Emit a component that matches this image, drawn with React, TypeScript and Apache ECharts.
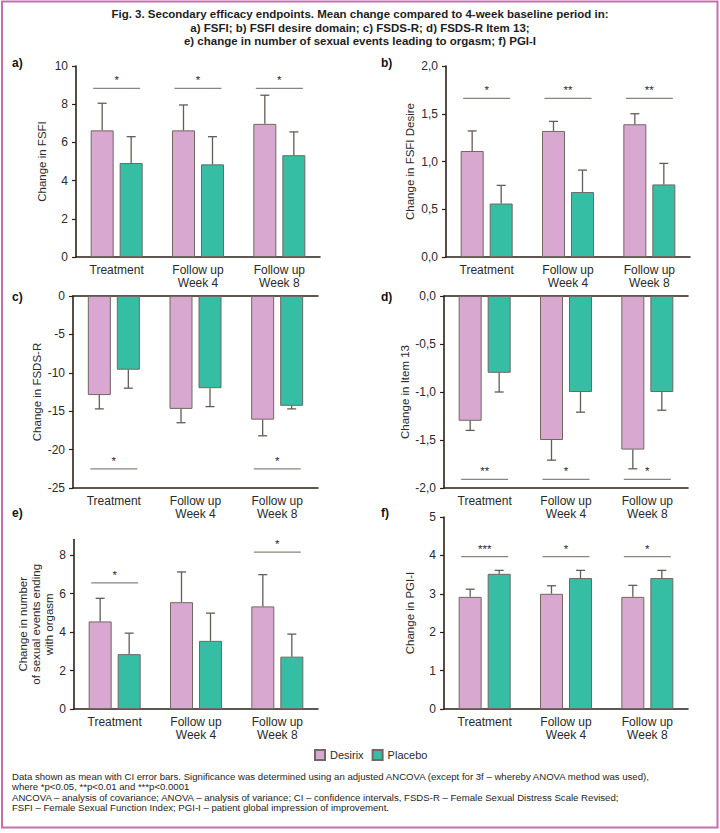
import React, { useEffect, useRef } from "react";
import * as echarts from "echarts";

// ---------- data ----------
const categories = ["Treatment", "Follow up\nWeek 4", "Follow up\nWeek 8"];
const seriesNames = ["Desirix", "Placebo"];

// a) FSFI
const fsfiDesirix = [6.63, 6.63, 6.97];
const fsfiDesirixCI = [8.05, 7.96, 8.47];
const fsfiPlacebo = [4.92, 4.85, 5.33];
const fsfiPlaceboCI = [6.3, 6.3, 6.55];
const fsfiSigCats = [0, 1, 2];
const fsfiSigLevels = [8.83, 8.83, 8.83];
const fsfiSigStars = ["*", "*", "*"];

// b) FSFI desire
const desireDesirix = [1.11, 1.32, 1.39];
const desireDesirixCI = [1.32, 1.42, 1.5];
const desirePlacebo = [0.56, 0.68, 0.76];
const desirePlaceboCI = [0.75, 0.91, 0.98];
const desireSigCats = [0, 1, 2];
const desireSigLevels = [1.66, 1.66, 1.66];
const desireSigStars = ["*", "**", "**"];

// c) FSDS-R
const fsdsDesirix = [-12.9, -14.7, -16.1];
const fsdsDesirixCI = [-14.7, -16.5, -18.2];
const fsdsPlacebo = [-9.6, -12.0, -14.3];
const fsdsPlaceboCI = [-12.0, -14.4, -14.7];
const fsdsSigCats = [0, 2];
const fsdsSigLevels = [-22.5, -22.5];
const fsdsSigStars = ["*", "*"];

// d) FSDS-R Item 13
const item13Desirix = [-1.3, -1.5, -1.6];
const item13DesirixCI = [-1.4, -1.71, -1.8];
const item13Placebo = [-0.8, -1.0, -1.0];
const item13PlaceboCI = [-1.0, -1.21, -1.19];
const item13SigCats = [0, 1, 2];
const item13SigLevels = [-1.91, -1.91, -1.91];
const item13SigStars = ["**", "*", "*"];

// e) sexual events ending with orgasm
const eventsDesirix = [4.55, 5.55, 5.33];
const eventsDesirixCI = [5.75, 7.12, 6.98];
const eventsPlacebo = [2.85, 3.54, 2.72];
const eventsPlaceboCI = [3.94, 4.98, 3.89];
const eventsSigCats = [0, 2];
const eventsSigLevels = [6.55, 8.15];
const eventsSigStars = ["*", "*"];

// f) PGI-I
const pgiDesirix = [2.92, 3.0, 2.92];
const pgiDesirixCI = [3.12, 3.21, 3.22];
const pgiPlacebo = [3.52, 3.41, 3.41];
const pgiPlaceboCI = [3.61, 3.61, 3.61];
const pgiSigCats = [0, 1, 2];
const pgiSigLevels = [3.97, 3.97, 3.97];
const pgiSigStars = ["***", "*", "*"];

const titleLines = [
  "Fig. 3. Secondary efficacy endpoints. Mean change compared to 4-week baseline period in:",
  "a) FSFI; b) FSFI desire domain; c) FSDS-R; d) FSDS-R Item 13;",
  "e) change in number of sexual events leading to orgasm; f) PGI-I",
];
const footerLines = [
  "Data shown as mean with CI error bars. Significance was determined using an adjusted ANCOVA (except for 3f – whereby ANOVA method was used),",
  "where *p<0.05, **p<0.01 and ***p<0.0001",
  "ANCOVA – analysis of covariance; ANOVA – analysis of variance; CI – confidence intervals, FSDS-R – Female Sexual Distress Scale Revised;",
  "FSFI – Female Sexual Function Index; PGI-I – patient global impression of improvement.",
];

// ---------- styles ----------
const FONT = "'Liberation Sans', Arial, sans-serif";
const PINK = "#d8a8d0";
const TEAL = "#35bea3";
const BAR_BORDER = "#716862";
const AXIS = "#2b2118";
const TEXT = "#2a2a2a";
const ERR = "#655c55";
const SIG = "#8a837e";
const BAR_W = 23;
const BAR_GAP = 6;
const OFFSET = (BAR_W + BAR_GAP) / 2;

const comma = (v: number) => v.toFixed(1).replace(".", ",");

type Panel = {
  label: string;
  labelPos: [number, number];
  grid: { left: number; top: number; width: number; height: number };
  min: number;
  max: number;
  interval: number;
  custom?: number[];
  fmt?: (v: number) => string;
  name: string;
  nameGap: number;
  topLine?: boolean;
  d: number[];
  dCI: number[];
  p: number[];
  pCI: number[];
  sigCats: number[];
  sigLevels: number[];
  sigStars: string[];
};

const panels: Panel[] = [
  {
    label: "a)", labelPos: [12, 63],
    grid: { left: 76, top: 66, width: 244, height: 191 },
    min: 0, max: 10, interval: 2, name: "Change in FSFI", nameGap: 28,
    d: fsfiDesirix, dCI: fsfiDesirixCI, p: fsfiPlacebo, pCI: fsfiPlaceboCI,
    sigCats: fsfiSigCats, sigLevels: fsfiSigLevels, sigStars: fsfiSigStars,
  },
  {
    label: "b)", labelPos: [381, 63],
    grid: { left: 446, top: 66, width: 244, height: 191 },
    min: 0, max: 2, interval: 0.5, fmt: comma, name: "Change in FSFI Desire", nameGap: 30,
    d: desireDesirix, dCI: desireDesirixCI, p: desirePlacebo, pCI: desirePlaceboCI,
    sigCats: desireSigCats, sigLevels: desireSigLevels, sigStars: desireSigStars,
  },
  {
    label: "c)", labelPos: [12, 297],
    grid: { left: 73, top: 296, width: 245, height: 192 },
    min: -25, max: 0, interval: 5, name: "Change in FSDS-R", nameGap: 26, topLine: true,
    d: fsdsDesirix, dCI: fsdsDesirixCI, p: fsdsPlacebo, pCI: fsdsPlaceboCI,
    sigCats: fsdsSigCats, sigLevels: fsdsSigLevels, sigStars: fsdsSigStars,
  },
  {
    label: "d)", labelPos: [381, 297],
    grid: { left: 444, top: 296, width: 244, height: 192 },
    min: -2, max: 0, interval: 0.5, fmt: comma, name: "Change in Item 13", nameGap: 32, topLine: true,
    d: item13Desirix, dCI: item13DesirixCI, p: item13Placebo, pCI: item13PlaceboCI,
    sigCats: item13SigCats, sigLevels: item13SigLevels, sigStars: item13SigStars,
  },
  {
    label: "e)", labelPos: [12, 513],
    grid: { left: 74, top: 539.6, width: 244, height: 169.4 },
    min: 0, max: 8.8, interval: 2, custom: [0, 2, 4, 6, 8],
    name: "Change in number\nof sexual events ending\nwith orgasm", nameGap: 15,
    d: eventsDesirix, dCI: eventsDesirixCI, p: eventsPlacebo, pCI: eventsPlaceboCI,
    sigCats: eventsSigCats, sigLevels: eventsSigLevels, sigStars: eventsSigStars,
  },
  {
    label: "f)", labelPos: [381, 513],
    grid: { left: 444, top: 517, width: 244, height: 192 },
    min: 0, max: 5, interval: 1, name: "Change in PGI-I", nameGap: 28,
    d: pgiDesirix, dCI: pgiDesirixCI, p: pgiPlacebo, pCI: pgiPlaceboCI,
    sigCats: pgiSigCats, sigLevels: pgiSigLevels, sigStars: pgiSigStars,
  },
];

function errorSeries(gi: number, vals: number[], ci: number[], sign: number) {
  return {
    type: "custom",
    xAxisIndex: gi,
    yAxisIndex: gi,
    silent: true,
    z: 4,
    data: vals.map((v, i) => [i, v, ci[i]]),
    encode: { x: 0, y: [1, 2] },
    renderItem: (params: any, api: any) => {
      const i = params.dataIndex;
      const a = api.coord([i, vals[i]]);
      const b = api.coord([i, ci[i]]);
      const x = a[0] + sign * OFFSET;
      const st = { stroke: ERR, lineWidth: 1.3 };
      return {
        type: "group",
        children: [
          { type: "line", shape: { x1: x, y1: a[1], x2: x, y2: b[1] }, style: st },
          { type: "line", shape: { x1: x - 4.5, y1: b[1], x2: x + 4.5, y2: b[1] }, style: st },
        ],
      };
    },
  };
}

function sigSeries(gi: number, cats: number[], levels: number[], stars: string[]) {
  return {
    type: "custom",
    xAxisIndex: gi,
    yAxisIndex: gi,
    silent: true,
    z: 4,
    data: cats.map((c, i) => [c, levels[i]]),
    encode: { x: 0, y: 1 },
    renderItem: (params: any, api: any) => {
      const i = params.dataIndex;
      const p = api.coord([cats[i], levels[i]]);
      return {
        type: "group",
        children: [
          {
            type: "line",
            shape: { x1: p[0] - 23.5, y1: p[1], x2: p[0] + 23.5, y2: p[1] },
            style: { stroke: SIG, lineWidth: 1.3 },
          },
          {
            type: "text",
            style: {
              x: p[0], y: p[1] - 8, text: stars[i], align: "center", verticalAlign: "middle",
              fontSize: 11.5, fontFamily: FONT, fill: TEXT,
            },
          },
        ],
      };
    },
  };
}

function buildOption() {
  const grids: any[] = [];
  const xAxes: any[] = [];
  const yAxes: any[] = [];
  const series: any[] = [];
  const graphics: any[] = [];

  panels.forEach((pn, gi) => {
    grids.push({ ...pn.grid, containLabel: false });
    xAxes.push({
      type: "category",
      gridIndex: gi,
      data: categories,
      axisLine: { onZero: false, lineStyle: { color: AXIS, width: 1.6 } },
      axisTick: { show: false },
      axisLabel: { color: TEXT, fontSize: 12, fontFamily: FONT, lineHeight: 13, margin: 6, interval: 0 },
    });
    yAxes.push({
      type: "value",
      gridIndex: gi,
      min: pn.min,
      max: pn.max,
      interval: pn.interval,
      name: pn.name,
      nameLocation: "middle",
      nameGap: pn.nameGap,
      nameTextStyle: { color: TEXT, fontSize: 11.5, fontFamily: FONT, lineHeight: 13 },
      axisLine: { show: true, onZero: false, lineStyle: { color: AXIS, width: 1.6 } },
      axisTick: { show: true, length: 4, lineStyle: { color: AXIS, width: 1.2 }, ...(pn.custom ? { customValues: pn.custom } : {}) },
      axisLabel: {
        color: TEXT, fontSize: 12, fontFamily: FONT, margin: 8,
        ...(pn.fmt ? { formatter: pn.fmt } : {}),
        ...(pn.custom ? { customValues: pn.custom } : {}),
      },
      splitLine: { show: false },
    });
    series.push({
      name: seriesNames[0], type: "bar", xAxisIndex: gi, yAxisIndex: gi,
      barWidth: BAR_W, barGap: (BAR_GAP / BAR_W) * 100 + "%",
      itemStyle: { color: PINK, borderColor: BAR_BORDER, borderWidth: 1 },
      data: pn.d, z: 2,
    });
    series.push({
      name: seriesNames[1], type: "bar", xAxisIndex: gi, yAxisIndex: gi,
      barWidth: BAR_W, barGap: (BAR_GAP / BAR_W) * 100 + "%",
      itemStyle: { color: TEAL, borderColor: BAR_BORDER, borderWidth: 1 },
      data: pn.p, z: 2,
    });
    series.push(errorSeries(gi, pn.d, pn.dCI, -1));
    series.push(errorSeries(gi, pn.p, pn.pCI, 1));
    series.push(sigSeries(gi, pn.sigCats, pn.sigLevels, pn.sigStars));
    graphics.push({
      type: "text", x: pn.labelPos[0], y: pn.labelPos[1],
      style: { text: pn.label, fontSize: 12, fontWeight: "bold", fontFamily: FONT, fill: "#111", verticalAlign: "middle" },
    });
  });

  // top zero lines for c) and d)
  panels.forEach((pn, gi) => {
    if (!pn.topLine) return;
    xAxes.push({
      type: "category",
      gridIndex: gi,
      position: "top",
      data: categories,
      axisLine: { onZero: false, lineStyle: { color: AXIS, width: 1.6 } },
      axisTick: { show: false },
      axisLabel: { show: false },
    });
  });

  titleLines.forEach((t, i) => {
    graphics.push({
      type: "text", x: 360, y: 14 + i * 13.5,
      style: { text: t, fontSize: 11.5, fontWeight: "bold", fontFamily: FONT, fill: "#1e1e1e", align: "center", verticalAlign: "middle" },
    });
  });
  footerLines.forEach((t, i) => {
    graphics.push({
      type: "text", x: 12, y: 776 + i * 10.5,
      style: { text: t, fontSize: 9.6, fontFamily: FONT, fill: "#1e1e1e", verticalAlign: "middle" },
    });
  });
  graphics.push({
    type: "rect",
    shape: { x: 2, y: 1.5, width: 715.5, height: 826 },
    style: { fill: "none", stroke: "#c66fab", lineWidth: 2 },
  });

  return {
    animation: false,
    backgroundColor: "#ffffff",
    grid: grids,
    xAxis: xAxes,
    yAxis: yAxes,
    legend: {
      data: seriesNames,
      left: 314,
      top: 749,
      padding: 0,
      itemWidth: 10,
      itemHeight: 10,
      itemGap: 8,
      icon: "rect",
      textStyle: { color: TEXT, fontSize: 11, fontFamily: FONT },
      selectedMode: false,
    },
    series,
    graphic: graphics,
  };
}

export default function App() {
  const ref = useRef<HTMLDivElement>(null);
  useEffect(() => {
    if (!ref.current) return;
    const chart = echarts.init(ref.current, undefined, { renderer: "svg" });
    chart.setOption(buildOption() as any);
    return () => chart.dispose();
  }, []);
  return (
    <div
      ref={ref}
      style={{ position: "absolute", left: 0, top: 0, width: 720, height: 833, background: "#fff" }}
    />
  );
}
